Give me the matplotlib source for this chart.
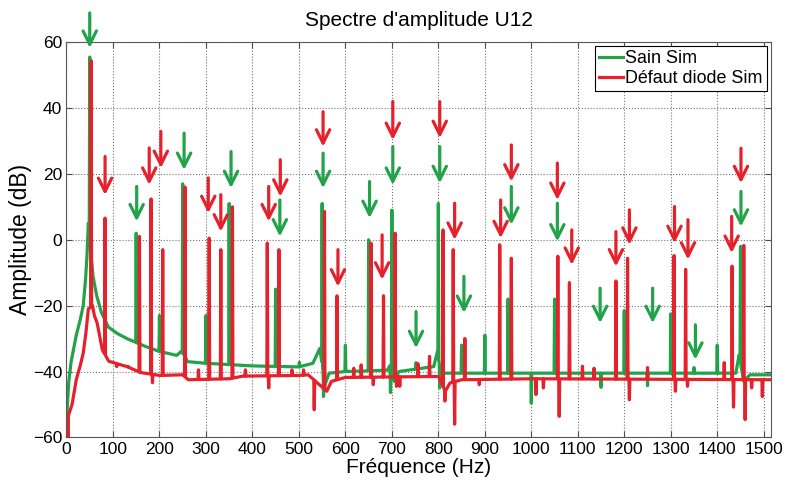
import numpy as np
import matplotlib
matplotlib.use("Agg")
import matplotlib.pyplot as plt

plt.rcParams['font.family'] = ['Liberation Sans', 'DejaVu Sans']

GREEN = "#22a34a"
RED = "#e5212b"

# --- Sain Sim (green) ---
# background level of the spectrum
green_floor_f = [0, 2, 5, 10, 21, 30, 36, 41, 44, 47, 53, 57, 65, 75, 90, 110, 130, 170,
                 200, 237, 246, 254, 260, 300, 400, 500, 530, 545, 556, 565, 600, 690,
                 697, 705, 715, 790, 798, 806, 815, 1000, 1440, 1447, 1457, 1470, 1515]
green_floor_db = [-60, -50, -43, -37, -29, -24, -20, -12, -5, 5, -5, -11, -17, -22, -26.5,
                  -28.5, -30, -32.4, -33.9, -35.1, -34, -35, -37, -37.5, -38.3, -38.6, -37.5,
                  -33, -44, -40.5, -40, -39.6, -38, -43, -40, -38.5, -34, -41, -40.5,
                  -40.5, -40.5, -35, -43, -41, -41]
# spectral lines (peaks and small bumps)
green_peak_f = [50, 150, 200, 250, 300, 350, 450, 501, 550, 600, 650, 700, 752, 800,
                850, 900, 950, 1050, 1200, 1300, 1350, 1400, 1450]
green_peak_db = [55.5, 2, -23, 17, -23, 11, -15, -37.2, 11, -32, 0, 9, -37.3, 11,
                 -32, -29, -18, -18, -21.5, -22.5, -38.8, -32, -2]
green_dip_f = [553, 697, 803, 1000, 1150, 1250]
green_dip_db = [-47.6, -46.4, -45, -49.6, -44.8, -44.3]

# --- Défaut diode Sim (red) ---
red_floor_f = [0, 5, 12, 21, 30, 36, 42, 47, 56, 60, 66, 77, 91, 130, 159, 201, 250,
               262, 350, 380, 500, 520, 560, 570, 600, 800, 815, 825, 850, 1000, 1515]
red_floor_db = [-54, -53, -50, -42.5, -38, -34.4, -28, -21, -20, -23, -25.3, -33.4, -36.9,
                -38.5, -40.3, -41.2, -41, -42.5, -42.2, -41.4, -41.2, -41, -46, -43,
                -41.8, -41.5, -46, -43.5, -42.5, -42.2, -42.5]
red_peak_f = [53, 83, 108, 133, 157, 182, 207, 255, 284, 307, 332, 357, 385, 432, 457,
              485, 510, 555, 582, 618, 634, 655, 682, 707, 756, 781, 810, 832, 857, 932,
              957, 1057, 1082, 1110, 1135, 1182, 1207, 1250, 1307, 1332, 1415, 1432, 1457]
red_peak_db = [54.4, 6.6, -38.5, -38.5, 1, 12.4, -3, 16, -39.5, 0.5, -3, 10, -39.5, -1, -3,
               -39.5, -39.5, 8.6, -17, -39, -38, -1, -17, 2, -37.6, -35.4, 3, -3, -30, -1.5,
               -5.6, -5, -13, -38.4, -39, -12.5, -5.6, -38.8, -4.8, -9, -37.3, -8, -1.7]
red_dip_f = [3, 185, 435, 533, 660, 710, 717, 814, 835, 888, 1010, 1026, 1060, 1211, 1310,
             1336, 1435, 1460, 1474, 1497]
red_dip_db = [-62, -43.4, -45, -51.6, -44, -44.5, -44.5, -49, -56, -44, -47, -45, -53.6,
              -48.6, -46, -44.5, -50.8, -54.6, -45, -47.6]

# --- arrows (x, arrow tip, arrow tail) ---
green_arrow_f = [50, 151, 253, 354, 459, 552, 652, 702, 752, 803, 855, 957, 1056, 1148,
                 1261, 1353, 1451]
green_arrow_tip = [58.3, 5.6, 21.2, 15.7, 1, 15.7, 6.6, 16.7, -32.9, 17.2, -22.2, 4.6,
                   -0.5, -25.3, -25.3, -36.4, 4]
green_arrow_tail = [68.9, 16.2, 32.4, 26.8, 12.1, 26.3, 17.7, 28.3, -21.8, 28.3, -11.1,
                    16.2, 11.1, -14.7, -14.7, -25.8, 14.7]
red_arrow_f = [83, 178, 203, 305, 332, 435, 460, 552, 584, 679, 702, 803, 835, 934, 957,
               1056, 1087, 1182, 1211, 1308, 1337, 1431, 1451]
red_arrow_tip = [13.6, 16.7, 21.8, 8.1, 2.5, 5.6, 13.1, 28.3, -14.2, -12.1, 30.3, 30.9, 0,
                 0.5, 17.7, 12.1, -7.6, -8.1, -1.5, -1, -6, -4, 17.2]
red_arrow_tail = [25.3, 27.9, 32.9, 18.8, 13.7, 16.2, 24.3, 38.9, -3, 1.5, 42, 42, 11.1,
                  12.1, 28.8, 23.3, 3, 2.5, 9.1, 10.1, 6.1, 7.1, 27.8]


def build_trace(floor_f, floor_db, ev_f, ev_db, hw=1.0):
    # background polyline with narrow spikes (up or down) inserted at each event
    ev = np.asarray(ev_f, dtype=float)
    xs, ys = [], []
    for f, v in zip(floor_f, floor_db):
        if np.all(np.abs(ev - f) > hw):
            xs.append(f)
            ys.append(v)
    for f, v in zip(ev_f, ev_db):
        for df in (-hw, hw):
            xs.append(f + df)
            ys.append(np.interp(f + df, floor_f, floor_db))
        xs.append(f)
        ys.append(v)
    order = np.argsort(xs, kind="stable")
    return np.array(xs)[order], np.array(ys)[order]


gx, gy = build_trace(green_floor_f, green_floor_db,
                     green_peak_f + green_dip_f, green_peak_db + green_dip_db)
rx, ry = build_trace(red_floor_f, red_floor_db,
                     red_peak_f + red_dip_f, red_peak_db + red_dip_db)

fig = plt.figure(figsize=(7.85, 4.83), dpi=100)
ax = fig.add_axes([0.0847, 0.0945, 0.8971, 0.8180])

ax.plot(gx, gy, color=GREEN, lw=2.3, label="Sain Sim")
ax.plot(rx, ry, color=RED, lw=2.3, label="Défaut diode Sim")

for f, tip, tail in zip(green_arrow_f, green_arrow_tip, green_arrow_tail):
    ax.annotate("", xy=(f, tip), xytext=(f, tail), annotation_clip=False,
                arrowprops=dict(arrowstyle="->,head_length=0.6,head_width=0.3",
                                color=GREEN, lw=2.3, shrinkA=0, shrinkB=0,
                                mutation_scale=16))
for f, tip, tail in zip(red_arrow_f, red_arrow_tip, red_arrow_tail):
    ax.annotate("", xy=(f, tip), xytext=(f, tail), annotation_clip=False,
                arrowprops=dict(arrowstyle="->,head_length=0.6,head_width=0.3",
                                color=RED, lw=2.3, shrinkA=0, shrinkB=0,
                                mutation_scale=16))

ax.set_xlim(0, 1515)
ax.set_ylim(-60, 60)
ax.set_xticks(np.arange(0, 1501, 100))
ax.set_yticks(np.arange(-60, 61, 20))
ax.tick_params(direction="in", top=True, right=True, labelsize=12.5, length=4, pad=3,
               color="0.3")
ax.grid(True, linestyle=":", color="0.45", lw=0.8)
for s in ax.spines.values():
    s.set_color("0.35")
    s.set_linewidth(0.8)

ax.set_title("Spectre d'amplitude U12", fontsize=15, pad=12)
ax.set_xlabel("Fréquence (Hz)", fontsize=15, labelpad=1)
ax.set_ylabel("Amplitude (dB)", fontsize=16.5, labelpad=1)

leg = ax.legend(loc="upper right", fontsize=12.9, fancybox=False, edgecolor="black",
                framealpha=1, borderaxespad=0.2, handlelength=1.3, handletextpad=0.15,
                borderpad=0.25, labelspacing=0.15)
leg.get_frame().set_linewidth(0.8)

fig.savefig("out.png", dpi=100)
